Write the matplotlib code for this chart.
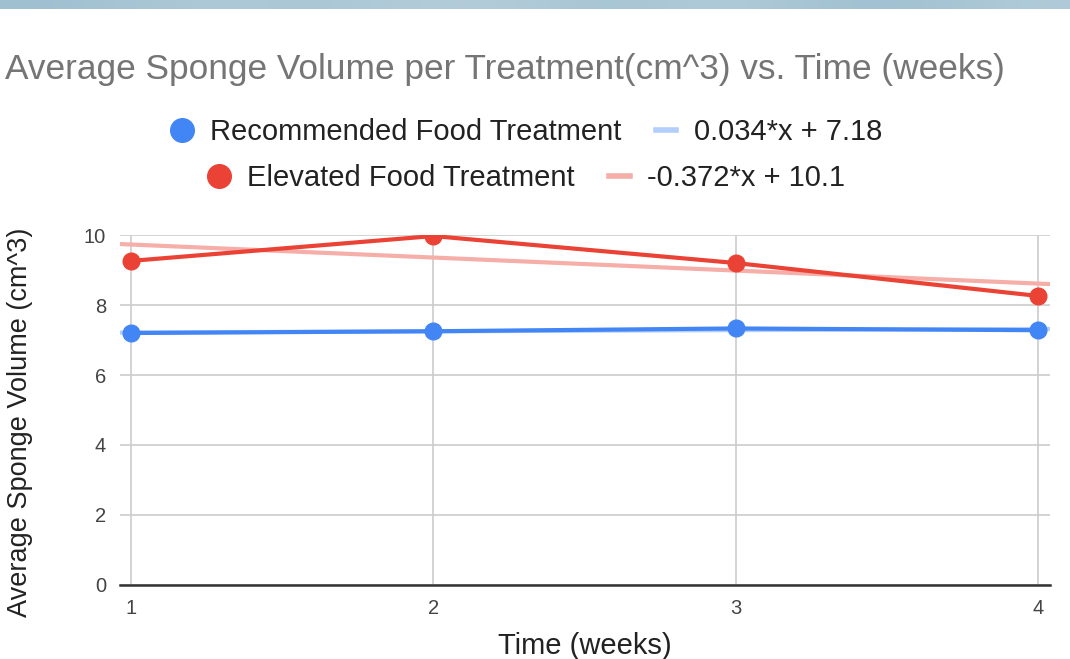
import matplotlib
matplotlib.use("Agg")
import matplotlib.pyplot as plt
import numpy as np
from matplotlib.lines import Line2D

plt.rcParams['font.family'] = ['Liberation Sans', 'DejaVu Sans']

weeks = [1, 2, 3, 4]
recommended = [7.20, 7.25, 7.33, 7.28]
elevated = [9.26, 9.97, 9.20, 8.26]
rec_trend = (0.034, 7.18)
elev_trend = (-0.372, 10.1)
rec_label = "Recommended Food Treatment"
elev_label = "Elevated Food Treatment"
rec_trend_label = "0.034*x + 7.18"
elev_trend_label = "-0.372*x + 10.1"
yticks = [0, 2, 4, 6, 8, 10]

blue = '#4285f4'
red = '#ea4335'
blue_l = '#b3cefb'
red_l = '#f6aea9'

fig = plt.figure(figsize=(10.7, 6.59), dpi=100)
# top band
band = fig.add_axes([0, 1 - 9/659, 1, 9/659])
band.imshow(np.array([[0.62, 0.70, 0.66, 0.74, 0.64, 0.72, 0.60, 0.70]]), aspect='auto',
            cmap=matplotlib.colors.LinearSegmentedColormap.from_list('b', ['#8fb6c9', '#c7d8e3']),
            vmin=0.55, vmax=0.8, interpolation='bicubic')
band.axis('off')

ax = fig.add_axes([120/1070, 74/659, 930/1070, 350/659])
xmin, xmax = 0.964, 4.04
xs = np.array([xmin, xmax])
ax.plot(xs, rec_trend[0]*xs + rec_trend[1], color=blue_l, lw=3, zorder=2)
ax.plot(xs, elev_trend[0]*xs + elev_trend[1], color=red_l, lw=3, zorder=2)
ax.plot(weeks, recommended, color=blue, lw=3, marker='o', ms=12, zorder=3)
ax.plot(weeks, elevated, color=red, lw=3, marker='o', ms=12, zorder=3)

ax.set_xlim(xmin, xmax)
ax.set_ylim(0, 10)
ax.set_xticks(weeks)
ax.set_yticks(yticks)
ax.grid(True, color='#cccccc', lw=1.2)
ax.set_axisbelow(True)
for s in ['top', 'right', 'left']:
    ax.spines[s].set_visible(False)
ax.spines['bottom'].set_color('#333333')
ax.spines['bottom'].set_linewidth(1.8)
ax.spines['bottom'].set_zorder(4)
ax.tick_params(length=0, labelsize=14.5, colors='#444444', pad=10)
ax.set_xlabel('Time (weeks)', fontsize=21, color='#222222', labelpad=10)

fig.text(20/1070, 1 - 422/659, 'Average Sponge Volume (cm^3)', rotation=90,
         fontsize=19.5, color='#222222', va='center', ha='center')

fig.text(5/1070, 1 - 70/659, 'Average Sponge Volume per Treatment(cm^3) vs. Time (weeks)',
         fontsize=25.4, color='#757575', va='center', ha='left')

h1 = [Line2D([], [], color=blue, marker='o', ls='none', ms=17),
      Line2D([], [], color=blue_l, lw=4)]
h2 = [Line2D([], [], color=red, marker='o', ls='none', ms=17),
      Line2D([], [], color=red_l, lw=4)]
kw = dict(ncol=2, frameon=False, fontsize=21, handlelength=0.7, handletextpad=0.6,
          columnspacing=1.2, loc='center')
leg1 = fig.legend(h1, [rec_label, rec_trend_label], bbox_to_anchor=(527/1070, 1 - 132/659), **kw)
leg2 = fig.legend(h2, [elev_label, elev_trend_label], bbox_to_anchor=(527/1070, 1 - 178/659), **kw)
for leg in (leg1, leg2):
    for t in leg.get_texts():
        t.set_color('#222222')

fig.savefig('out.png', dpi=100)
